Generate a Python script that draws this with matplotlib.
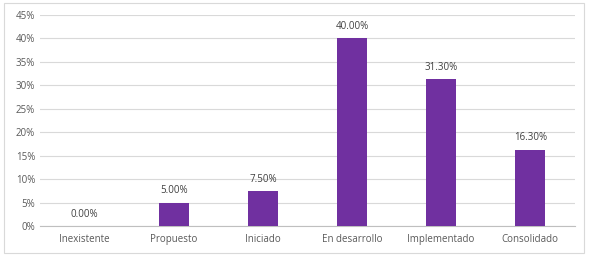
import matplotlib.pyplot as plt
from matplotlib.patches import Rectangle
from matplotlib.ticker import PercentFormatter

categorias = ['Inexistente', 'Propuesto', 'Iniciado', 'En desarrollo', 'Implementado', 'Consolidado']
valores = [0.0, 5.0, 7.5, 40.0, 31.3, 16.3]
etiquetas = ['0.00%', '5.00%', '7.50%', '40.00%', '31.30%', '16.30%']

plt.rcParams['font.family'] = ['Open Sans', 'DejaVu Sans']

fig = plt.figure(figsize=(5.89, 2.58), dpi=100)
ax = fig.add_axes([0.068, 0.124, 0.908, 0.818])

x = range(len(categorias))
barras = ax.bar(x, valores, width=0.34, color='#7030A0', zorder=3)

for xi, v, txt in zip(x, valores, etiquetas):
    ax.text(xi, v + 1.3, txt, ha='center', va='bottom', fontsize=7, color='#404040')

ax.set_xlim(-0.5, len(categorias) - 0.5)
ax.set_ylim(0, 45)
ax.set_yticks(range(0, 46, 5))
ax.yaxis.set_major_formatter(PercentFormatter(decimals=0))
ax.set_xticks(list(x))
ax.set_xticklabels(categorias)
ax.tick_params(axis='both', length=0, labelsize=7, colors='#595959')
ax.tick_params(axis='x', pad=6)
ax.grid(axis='y', color='#D9D9D9', linewidth=0.8, zorder=0)

for lado in ['top', 'right', 'left']:
    ax.spines[lado].set_visible(False)
ax.spines['bottom'].set_color('#BFBFBF')

fig.patches.append(Rectangle((0.007, 0.02), 0.985, 0.97, transform=fig.transFigure,
                             fill=False, edgecolor='#D9D9D9', linewidth=0.8))

fig.savefig('out.png', dpi=100)
